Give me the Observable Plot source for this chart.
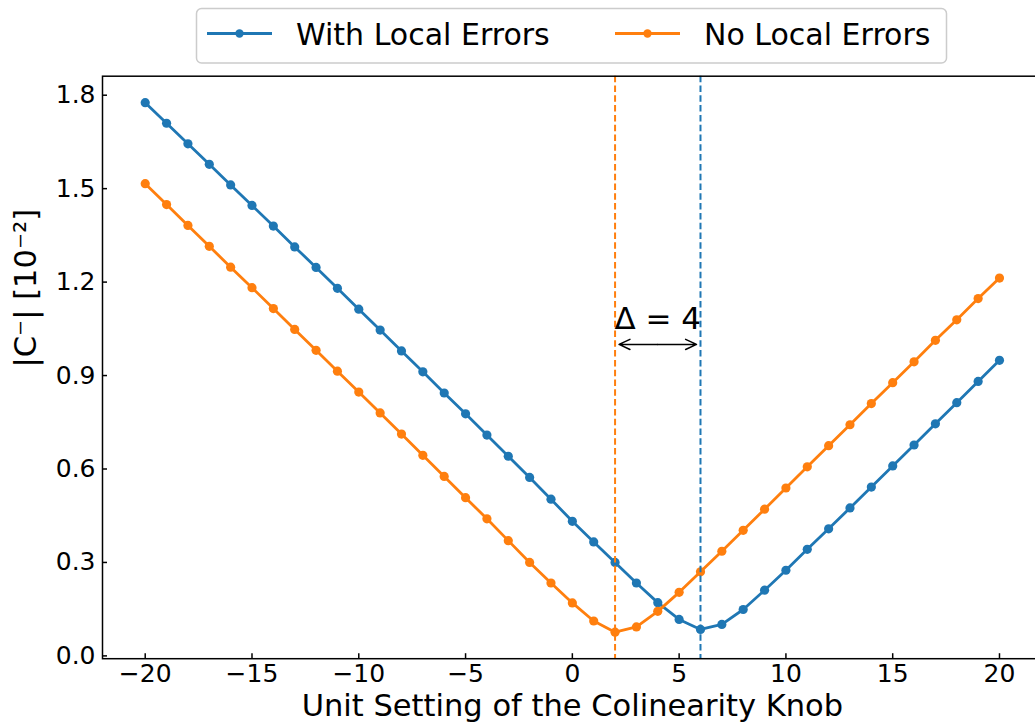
<!DOCTYPE html>
<html><head><meta charset="utf-8">
<script src="https://cdn.jsdelivr.net/npm/d3@7"></script>
<script src="https://cdn.jsdelivr.net/npm/@observablehq/plot@0.6"></script>
<style>
body{margin:0;background:#fff;font-family:"DejaVu Sans";}
#wrap{position:relative;width:1035px;height:726px;overflow:hidden;}
#chart svg{display:block;}
#legend{position:absolute;left:0;top:0;}
</style></head>
<body><div id="wrap"><div id="chart"></div><svg id="legend" width="1035" height="70"></svg></div>
<script>
// ---- data ----
const knob = [-20,-19,-18,-17,-16,-15,-14,-13,-12,-11,-10,-9,-8,-7,-6,-5,-4,-3,-2,-1,0,1,2,3,4,5,6,7,8,9,10,11,12,13,14,15,16,17,18,19,20];
const withLocal = [1.776,1.710,1.644,1.578,1.512,1.446,1.380,1.313,1.247,1.180,1.113,1.046,0.979,0.912,0.844,0.777,0.709,0.641,0.573,0.503,0.432,0.366,0.300,0.234,0.171,0.117,0.085,0.101,0.149,0.211,0.275,0.342,0.408,0.475,0.542,0.610,0.677,0.745,0.813,0.881,0.949];
const noLocal = [1.516,1.449,1.382,1.315,1.248,1.182,1.115,1.048,0.981,0.914,0.847,0.780,0.712,0.644,0.576,0.508,0.440,0.370,0.300,0.234,0.170,0.112,0.076,0.093,0.143,0.204,0.270,0.336,0.403,0.471,0.539,0.607,0.675,0.742,0.810,0.877,0.944,1.013,1.079,1.147,1.213];
const seriesNames = ["With Local Errors", "No Local Errors"];
const seriesColors = ["#1f77b4", "#ff7f0e"];
const minimaKnob = [6, 2];           // minimum position of each series
const xTicks = [-20,-15,-10,-5,0,5,10,15,20];
const yTicks = [0.0,0.3,0.6,0.9,1.2,1.5,1.8];
const deltaLabel = "Δ = 4";
const deltaArrowY = 1.0;
const deltaTextY = 1.081;
const xLabel = "Unit Setting of the Colinearity Knob";
const yLabel = "|C⁻| [10⁻²]";

// ---- build tables ----
const rowsBlue = knob.map((k, i) => ({k, v: withLocal[i], s: seriesNames[0]}));
const rowsOrange = knob.map((k, i) => ({k, v: noLocal[i], s: seriesNames[1]}));
const vlines = minimaKnob.map((k, i) => ({k, s: seriesNames[i]}));
const mid = (minimaKnob[0] + minimaKnob[1]) / 2;
const arrows = [{x1: mid, x2: minimaKnob[1], y: deltaArrowY}, {x1: mid, x2: minimaKnob[0], y: deltaArrowY}];

const chart = Plot.plot({
  width: 1035,
  height: 726,
  marginLeft: 102,
  marginRight: -6.7,
  marginTop: 75.7,
  marginBottom: 67.8,
  style: {fontFamily: "DejaVu Sans", fontSize: "25px", background: "white", color: "black"},
  x: {domain: [-22, 22]},
  y: {domain: [-0.009, 1.861]},
  color: {domain: seriesNames, range: seriesColors},
  marks: [
    Plot.line(rowsBlue, {x: "k", y: "v", stroke: "s", strokeWidth: 2.8}),
    Plot.dot(rowsBlue, {x: "k", y: "v", fill: "s", r: 4.6}),
    Plot.line(rowsOrange, {x: "k", y: "v", stroke: "s", strokeWidth: 2.8}),
    Plot.dot(rowsOrange, {x: "k", y: "v", fill: "s", r: 4.6}),
    Plot.ruleX(vlines, {x: "k", stroke: "s", strokeWidth: 2, strokeDasharray: "6.5,3.3"}),
    Plot.arrow(arrows, {x1: "x1", x2: "x2", y1: "y", y2: "y", stroke: "black", strokeWidth: 1.5, headLength: 12, headAngle: 50, insetEnd: 4}),
    Plot.text([deltaLabel], {x: mid, y: deltaTextY, text: d => d, fontSize: 31, textAnchor: "middle", lineAnchor: "middle", fill: "black"}),
    Plot.frame({stroke: "black", strokeWidth: 1.5}),
    // inward tick marks
    Plot.axisX({ticks: xTicks, tickSize: 5, dy: -5, fill: "none", stroke: "black", strokeWidth: 1.5, label: null}),
    Plot.axisY({ticks: yTicks, tickSize: 5, dx: 5, fill: "none", stroke: "black", strokeWidth: 1.5, label: null}),
    // tick labels
    Plot.axisX({ticks: xTicks, tickSize: 0, tickPadding: 6, tickFormat: d3.format("d"), fontSize: 25, fill: "black", label: null}),
    Plot.axisY({ticks: yTicks, tickSize: 0, tickPadding: 7, tickFormat: d3.format(".1f"), fontSize: 25, fill: "black", label: null}),
    // axis titles
    Plot.text([xLabel], {frameAnchor: "bottom", text: d => d, dy: 48, fontSize: 30.5, lineAnchor: "middle", fill: "black"}),
    Plot.text([yLabel], {frameAnchor: "left", text: d => d, dx: -76, rotate: -90, fontSize: 30.5, lineAnchor: "middle", fill: "black"})
  ]
});
document.getElementById("chart").appendChild(chart);

// ---- legend ----
const lg = d3.select("#legend");
lg.append("rect").attr("x", 196.5).attr("y", 8.5).attr("width", 750).attr("height", 54.5)
  .attr("rx", 5).attr("fill", "white").attr("stroke", "#cccccc").attr("stroke-width", 1.5);
const legendX = [207, 615];
seriesNames.forEach((name, i) => {
  const x0 = legendX[i];
  lg.append("line").attr("x1", x0).attr("x2", x0 + 65).attr("y1", 33.5).attr("y2", 33.5)
    .attr("stroke", seriesColors[i]).attr("stroke-width", 2.8);
  lg.append("circle").attr("cx", x0 + 32.5).attr("cy", 33.5).attr("r", 4.2).attr("fill", seriesColors[i]);
  lg.append("text").attr("x", x0 + 89).attr("y", 45).attr("font-family", "DejaVu Sans")
    .attr("font-size", 30).attr("fill", "black").text(name);
});
</script>
</body></html>
